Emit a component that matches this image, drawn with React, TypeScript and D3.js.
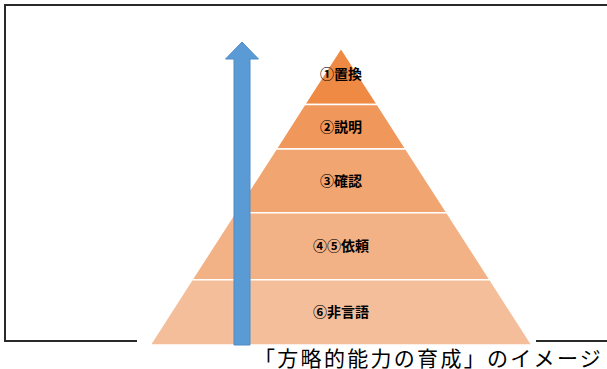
import React from "react";
import * as d3 from "d3";

// Pyramid layers, top to bottom
const layerLabels = ["①置換", "②説明", "③確認", "④⑤依頼", "⑥非言語"];
// Cumulative bottom of each layer, as % of pyramid height (apex = 0, base = 100)
const layerBottoms = [19, 34, 55.5, 78, 100];
const layerColors = ["#EF8A45", "#F0975B", "#F1A570", "#F3B286", "#F5BE9B"];
const caption = "「方略的能力の育成」のイメージ";

const W = 607;
const H = 369;

export default function App() {
  const apexX = 341;
  const y = d3.scaleLinear().domain([0, 100]).range([48, 345]);
  const halfW = d3.scaleLinear().domain([0, 100]).range([0, 191]);

  const tops = [0, ...layerBottoms.slice(0, -1)];
  const layers = layerLabels.map((label, i) => {
    const t = tops[i];
    const b = layerBottoms[i];
    const pts: [number, number][] = [
      [apexX - halfW(t), y(t)],
      [apexX + halfW(t), y(t)],
      [apexX + halfW(b), y(b)],
      [apexX - halfW(b), y(b)],
    ];
    return { label, pts, color: layerColors[i], cy: (y(t) + y(b)) / 2 - (i === 0 ? 3 : 1) };
  });
  const line = d3.line();

  // Arrow
  const arrowX = 242;
  const arrowTop = 42;
  const headBase = 59;
  const headHalf = 16.5;
  const shaftHalf = 8;
  const arrowBottom = y(100);
  const arrowPts: [number, number][] = [
    [arrowX, arrowTop],
    [arrowX + headHalf, headBase],
    [arrowX + shaftHalf, headBase],
    [arrowX + shaftHalf, arrowBottom],
    [arrowX - shaftHalf, arrowBottom],
    [arrowX - shaftHalf, headBase],
    [arrowX - headHalf, headBase],
  ];

  return (
    <svg
      width={W}
      height={H}
      style={{ position: "absolute", left: 0, top: 0, background: "#fff" }}
    >
      {/* frame */}
      <path d="M5,341 L5,5 L607,5" fill="none" stroke="#2a2a2a" strokeWidth={2} />
      <line x1={4} y1={341} x2={137} y2={341} stroke="#2a2a2a" strokeWidth={2} />
      <line x1={536} y1={341} x2={607} y2={341} stroke="#2a2a2a" strokeWidth={2} />

      {/* pyramid */}
      {layers.map((l, i) => (
        <path key={i} d={line(l.pts) + "Z"} fill={l.color} stroke="#fff" strokeWidth={1.5} strokeLinejoin="miter" />
      ))}

      {/* arrow */}
      <path d={line(arrowPts) + "Z"} fill="#5B9BD5" stroke="#4F8BC4" strokeWidth={1} />

      {/* labels */}
      {layers.map((l, i) => (
        <text
          key={i}
          x={apexX}
          y={l.cy}
          textAnchor="middle"
          dominantBaseline="central"
          fontFamily="'Noto Sans CJK JP', sans-serif"
          fontWeight="bold"
          fontSize={14}
          fill="#000"
        >
          {l.label}
        </text>
      ))}

      {/* caption */}
      <text
        x={254}
        y={366}
        fontFamily="'Noto Sans CJK JP', sans-serif"
        fontSize={21}
        letterSpacing={2.3}
        fill="#000"
      >
        {caption}
      </text>
    </svg>
  );
}
